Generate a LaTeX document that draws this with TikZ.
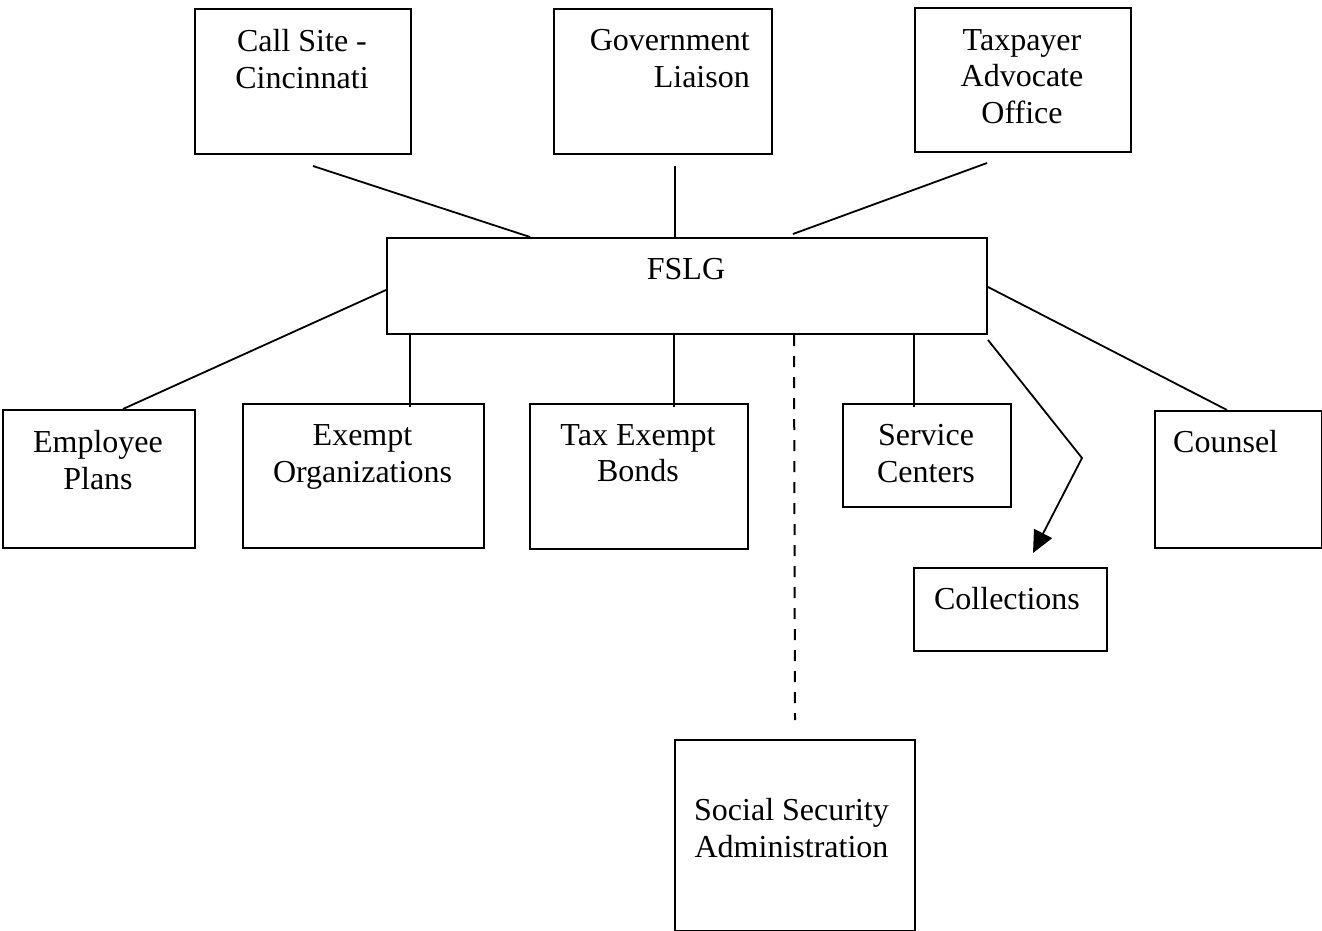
\documentclass[tikz,border=0pt]{standalone}
\usepackage{fontspec}
\setmainfont{Liberation Serif}
\usetikzlibrary{arrows.meta}
\begin{document}
\begin{tikzpicture}[x=1pt,y=-1pt,
  box/.style={draw, line width=2pt, anchor=north west, inner sep=0pt},
  txt/.style={font=\fontsize{32}{36.8}\selectfont, inner sep=0pt, anchor=north, align=center},
  link/.style={line width=1.8pt},
  dashlink/.style={line width=2pt, dash pattern=on 11pt off 10pt},
  arrowlink/.style={line width=1.8pt, -{Triangle[length=22pt,width=20pt]}}]
\useasboundingbox (0,0) rectangle (1322,931);

% boxes
\node[box, minimum width=216pt, minimum height=145pt] (call) at (194,8) {};
\node[box, minimum width=218pt, minimum height=145pt] (gov)  at (553,8) {};
\node[box, minimum width=216pt, minimum height=144pt] (adv)  at (914,7) {};
\node[box, minimum width=600pt, minimum height=96pt]  (fslg) at (386,237) {};
\node[box, minimum width=192pt, minimum height=138pt] (emp)  at (2,409) {};
\node[box, minimum width=241pt, minimum height=144pt] (exo)  at (242,403) {};
\node[box, minimum width=218pt, minimum height=145pt] (teb)  at (529,403) {};
\node[box, minimum width=168pt, minimum height=103pt] (svc)  at (842,403) {};
\node[box, minimum width=167pt, minimum height=137pt] (coun) at (1154,410) {};
\node[box, minimum width=193pt, minimum height=83pt]  (coll) at (913,567) {};
\node[box, minimum width=240pt, minimum height=191pt] (ssa)  at (674,739) {};

% labels
\node[txt] (callT) at (302,29) {Call Site -\\Cincinnati};
\node[txt, anchor=north east, align=right] (govT) at (750,29) {Government\\Liaison};
\node[txt] (advT) at (1022,29) {Taxpayer\\Advocate\\Office};
\node[txt] (fslgT) at (686,258.5) {FSLG};
\node[txt] (empT) at (98,430.5) {Employee\\Plans};
\node[txt] (exoT) at (362.5,424.5) {Exempt\\Organizations};
\node[txt] (tebT) at (638,424) {Tax Exempt\\Bonds};
\node[txt] (svcT) at (926,424) {Service\\Centers};
\node[txt, anchor=north west] (counT) at (1173,430.5) {Counsel};
\node[txt] (collT) at (1007,587.5) {Collections};
\node[txt] (ssaT) at (791.5,798.5) {Social Security\\Administration};

% loose ends of connectors
\coordinate (callEnd) at (313,166);
\coordinate (govEnd)  at (675,166);
\coordinate (advEnd)  at (987,163);
\coordinate (bend)    at (1082,458);

% upper connectors
\draw[link] (callEnd) -- ([xshift=144pt]fslg.north west);
\draw[link] (govEnd) -- (govEnd |- fslg.north);
\draw[link] (advEnd) -- ([xshift=407pt,yshift=3pt]fslg.north west);

% lower connectors
\draw[link] ([yshift=-53pt]fslg.north west) -- ([xshift=121pt]emp.north west);
\draw[link] ([xshift=24pt]fslg.south west) -- ([xshift=168pt,yshift=-4pt]exo.north west);
\draw[link] ([xshift=288pt]fslg.south west) -- ([xshift=145pt,yshift=-4pt]teb.north west);
\draw[dashlink] ([xshift=408pt]fslg.south west) -- ([yshift=19pt]ssa.north);
\draw[link] ([xshift=528pt]fslg.south west) -- ([xshift=72pt,yshift=-4pt]svc.north west);
\draw[arrowlink] ([yshift=-5pt]fslg.south east) -- (bend) -- ([xshift=120pt,yshift=14pt]coll.north west);
\draw[link] ([yshift=-50pt]fslg.north east) -- ([xshift=73pt]coun.north west);
\end{tikzpicture}
\end{document}
